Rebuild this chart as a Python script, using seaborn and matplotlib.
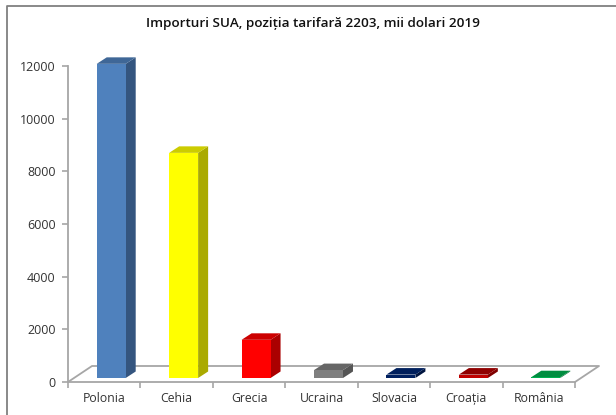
import matplotlib
matplotlib.use("Agg")
import matplotlib.pyplot as plt
from matplotlib.lines import Line2D
from matplotlib.patches import Polygon
import pandas as pd
import seaborn as sns

tari = ["Polonia", "Cehia", "Grecia", "Ucraina", "Slovacia", "Croația", "România"]
valori = [11930, 8550, 1450, 300, 130, 130, 30]
culori_fata = ["#4f81bd", "#ffff00", "#ff0000", "#7f7f7f", "#002060", "#c00000", "#00b050"]
culori_lateral = ["#34557f", "#aaaa00", "#aa0000", "#555555", "#001540", "#800000", "#007535"]
culori_sus = ["#3f6797", "#cccc00", "#cc0000", "#666666", "#001f5c", "#8f0000", "#008d40"]
y_ticks = [0, 2000, 4000, 6000, 8000, 10000, 12000]

sns.set_style("white")
plt.rcParams["font.family"] = ["Open Sans", "DejaVu Sans"]

df = pd.DataFrame({"tara": tari, "valoare": valori})

fig = plt.figure(figsize=(6.16, 4.15), dpi=100)
ax = fig.add_axes([68/616, (415-382)/415, 507/616, 316/415])

sns.barplot(
    data=df,
    x="tara",
    y="valoare",
    hue="tara",
    palette=culori_fata,
    saturation=1,
    legend=False,
    width=0.4,
    linewidth=0,
    ax=ax
)

ax.set_xlim(-0.5, 6.5)
ax.set_ylim(0, 12000)

# px -> data
px_x = 7 / 507
px_y = 12000 / 316
adanc_x = 10 * px_x
adanc_y = 6.5 * px_y
dep_x = 7 * px_x
baza = 4 * px_y

# podeaua
perete_x = 24 * px_x
perete_y = 16 * px_y
ax.plot([-0.5, -0.5 + perete_x, 6.5 + perete_x, 6.5],
        [0, perete_y, perete_y, 0],
        color="#a6a6a6", lw=1.3, clip_on=False, zorder=1)

# fetele laterale si de sus
for bar, lat, sus in zip(ax.patches, culori_lateral, culori_sus):
    bar.set_x(bar.get_x() + dep_x)
    bar.set_y(baza)
    bar.set_zorder(4)
    bar.set_clip_on(False)
    x0 = bar.get_x()
    x1 = x0 + bar.get_width()
    y0 = bar.get_y()
    y1 = y0 + bar.get_height()
    ax.add_patch(Polygon(
        [(x1, y0), (x1 + adanc_x, y0 + adanc_y), (x1 + adanc_x, y1 + adanc_y), (x1, y1)],
        color=lat, lw=0, zorder=3, clip_on=False
    ))
    ax.add_patch(Polygon(
        [(x0, y1), (x0 + adanc_x, y1 + adanc_y), (x1 + adanc_x, y1 + adanc_y), (x1, y1)],
        color=sus, lw=0, zorder=3, clip_on=False
    ))

sns.despine(ax=ax, top=True, right=True)
for s in ["left", "bottom"]:
    ax.spines[s].set_color("#a6a6a6")
    ax.spines[s].set_linewidth(1.3)

ax.set_yticks(y_ticks)
ax.set_xticks([i - 0.5 for i in range(8)], minor=False)
ax.set_xticklabels([])
ax.tick_params(axis="both", length=4, width=1.2, color="#a6a6a6", left=True, bottom=True,
               direction="out", labelcolor="#333333", labelsize=9)
ax.tick_params(axis="y", pad=5)
for i, t in enumerate(tari):
    ax.text(i, -0.052, t, transform=ax.get_xaxis_transform(), ha="center", va="center",
            fontsize=8.8, color="#333333")
ax.set_xlabel("")
ax.set_ylabel("")

fig.text(313.5/616, 1 - 23.5/415, "Importuri SUA, poziția tarifară 2203, mii dolari 2019",
         ha="center", va="center", fontsize=9.7, fontweight="semibold", color="#111111")

# chenar, doar sus si in stanga
fig.add_artist(Line2D([7/616, 7/616, 1], [0, 1 - 6.5/415, 1 - 6.5/415],
                      transform=fig.transFigure, color="#808080", lw=1.3))

fig.savefig("out.png", dpi=100)
